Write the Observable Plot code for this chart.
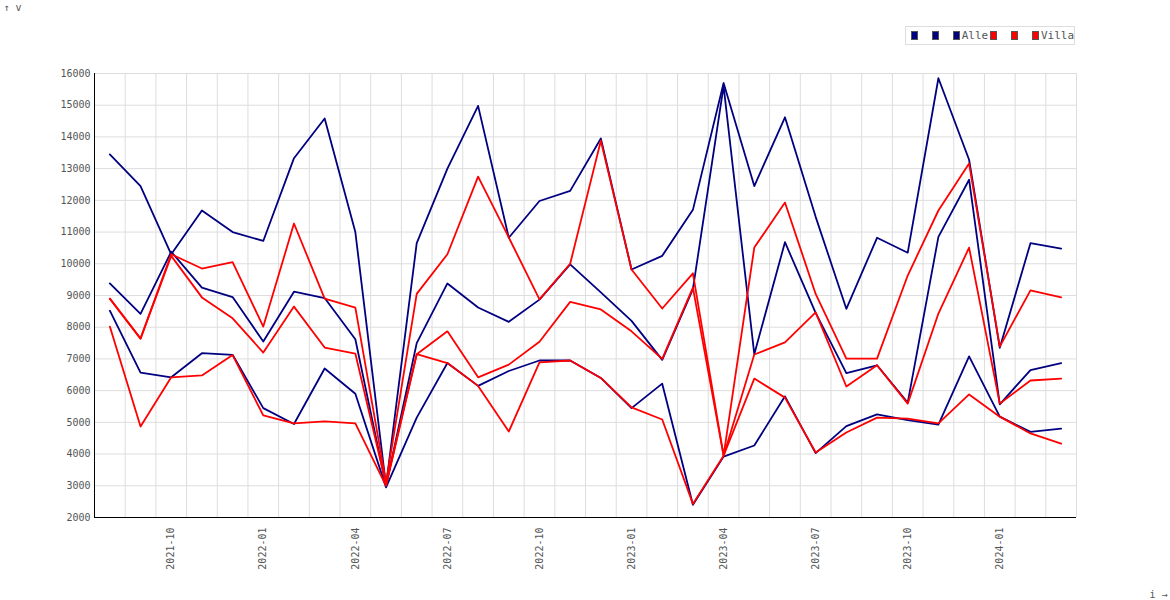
<!DOCTYPE html>
<html><head><meta charset="utf-8">
<script src="https://cdn.jsdelivr.net/npm/d3@7"></script>
<script src="https://cdn.jsdelivr.net/npm/@observablehq/plot@0.6"></script>
<style>
body{margin:0;background:#fff;font-family:"DejaVu Sans Mono",monospace;}
#wrap{position:relative;width:1170px;height:600px;}
#legend{position:absolute;left:905px;top:26px;width:170px;height:19px;border:1px solid #ddd;font-size:11px;color:#555;display:flex;align-items:center;padding-left:3px;box-sizing:border-box;}
#legend span.sw{display:inline-block;width:7px;height:7px;border:1px solid #555;margin:0 2px 0 2px;}
#legend span.gap{display:inline-block;width:13px;}
</style></head><body>
<div id="wrap"><div id="chart"></div><div id="legend"></div></div>
<script>
const months = ["2021-08","2021-09","2021-10","2021-11","2021-12","2022-01","2022-02","2022-03","2022-04","2022-05","2022-06","2022-07","2022-08","2022-09","2022-10","2022-11","2022-12","2023-01","2023-02","2023-03","2023-04","2023-05","2023-06","2023-07","2023-08","2023-09","2023-10","2023-11","2023-12","2024-01","2024-02","2024-03"];
const alleHigh = [13450,12450,10300,11680,11000,10720,13330,14580,11000,3000,10650,13000,14980,10820,11980,12300,13950,9820,10250,11700,15700,12450,14620,11480,8580,10820,10350,15850,13280,7350,10650,10480];
const alleMid  = [9380,8420,10380,9250,8950,7550,9120,8920,7620,3000,7500,9380,8620,8170,8870,9980,9100,8200,6970,9200,15600,7150,10680,8450,6550,6800,5620,10850,12650,5570,6650,6870];
const alleLow  = [8520,6570,6420,7180,7130,5450,4950,6700,5900,2950,5150,6870,6150,6620,6950,6950,6400,5450,6220,2400,3920,4270,5820,4030,4880,5250,5070,4930,7080,5180,4700,4800];
const villaHigh = [8900,7640,10300,9850,10050,8020,11270,8900,8620,3100,9050,10300,12750,10830,8880,10000,13880,9820,8590,9700,3950,10510,11930,9050,7010,7010,9630,11680,13160,7390,9160,8940];
const villaMid  = [8900,7640,10250,8940,8280,7200,8650,7360,7170,3050,7150,7870,6420,6820,7540,8800,8560,7870,7000,9250,3950,7140,7520,8470,6130,6800,5590,8430,10510,5590,6320,6380];
const villaLow  = [8020,4870,6420,6480,7120,5220,4970,5030,4970,3000,7150,6870,6150,4710,6890,6950,6400,5470,5090,2430,3950,6380,5780,4050,4680,5150,5120,4970,5880,5180,4650,4330];
const yTicks = d3.range(2000,16001,1000);
const labelIdx = d3.range(2,32,3);

const series = [
  {name:"Alle",color:"#000080",vals:alleHigh},
  {name:"Alle",color:"#000080",vals:alleMid},
  {name:"Alle",color:"#000080",vals:alleLow},
  {name:"Villa",color:"#ff0000",vals:villaHigh},
  {name:"Villa",color:"#ff0000",vals:villaMid},
  {name:"Villa",color:"#ff0000",vals:villaLow}
];
const data = series.flatMap((s,k)=>s.vals.map((v,i)=>({i,v,k,color:s.color})));

const chart = Plot.plot({
  width:1170,height:600,
  marginLeft:94,marginRight:94,marginTop:73,marginBottom:83,
  style:{fontFamily:"DejaVu Sans Mono, monospace",fontSize:"10px",color:"#555"},
  x:{domain:[-0.5,31.5],axis:null},
  y:{domain:[2000,16000],axis:null},
  marks:[
    Plot.ruleY(yTicks,{stroke:"#ddd",strokeWidth:1}),
    Plot.ruleX(d3.range(0.5,32,1),{stroke:"#ddd",strokeWidth:1}),
    Plot.axisY({ticks:yTicks,tickSize:0,tickPadding:4,tickFormat:d=>String(d),fill:"#555"}),
    Plot.axisX({ticks:labelIdx,tickSize:0,tickRotate:-90,tickPadding:10,tickFormat:i=>months[i],fill:"#555"}),
    Plot.line(data,{x:"i",y:"v",z:"k",stroke:"color",strokeWidth:1.8}),
    Plot.ruleX([-0.5],{stroke:"#000",strokeWidth:1}),
    Plot.ruleY([2000],{stroke:"#000",strokeWidth:1})
  ]
});
document.getElementById("chart").append(chart);

const legendItems = [["#000080",""],["#000080",""],["#000080","Alle"],["#ff0000",""],["#ff0000",""],["#ff0000","Villa"]];
const lg = document.getElementById("legend");
legendItems.forEach(([c,t])=>{
  const s=document.createElement("span");s.className="sw";s.style.background=c;lg.append(s);
  if(t){const x=document.createElement("span");x.textContent=t;lg.append(x);}
  else{const g=document.createElement("span");g.className="gap";lg.append(g);}
});
</script></body></html>
